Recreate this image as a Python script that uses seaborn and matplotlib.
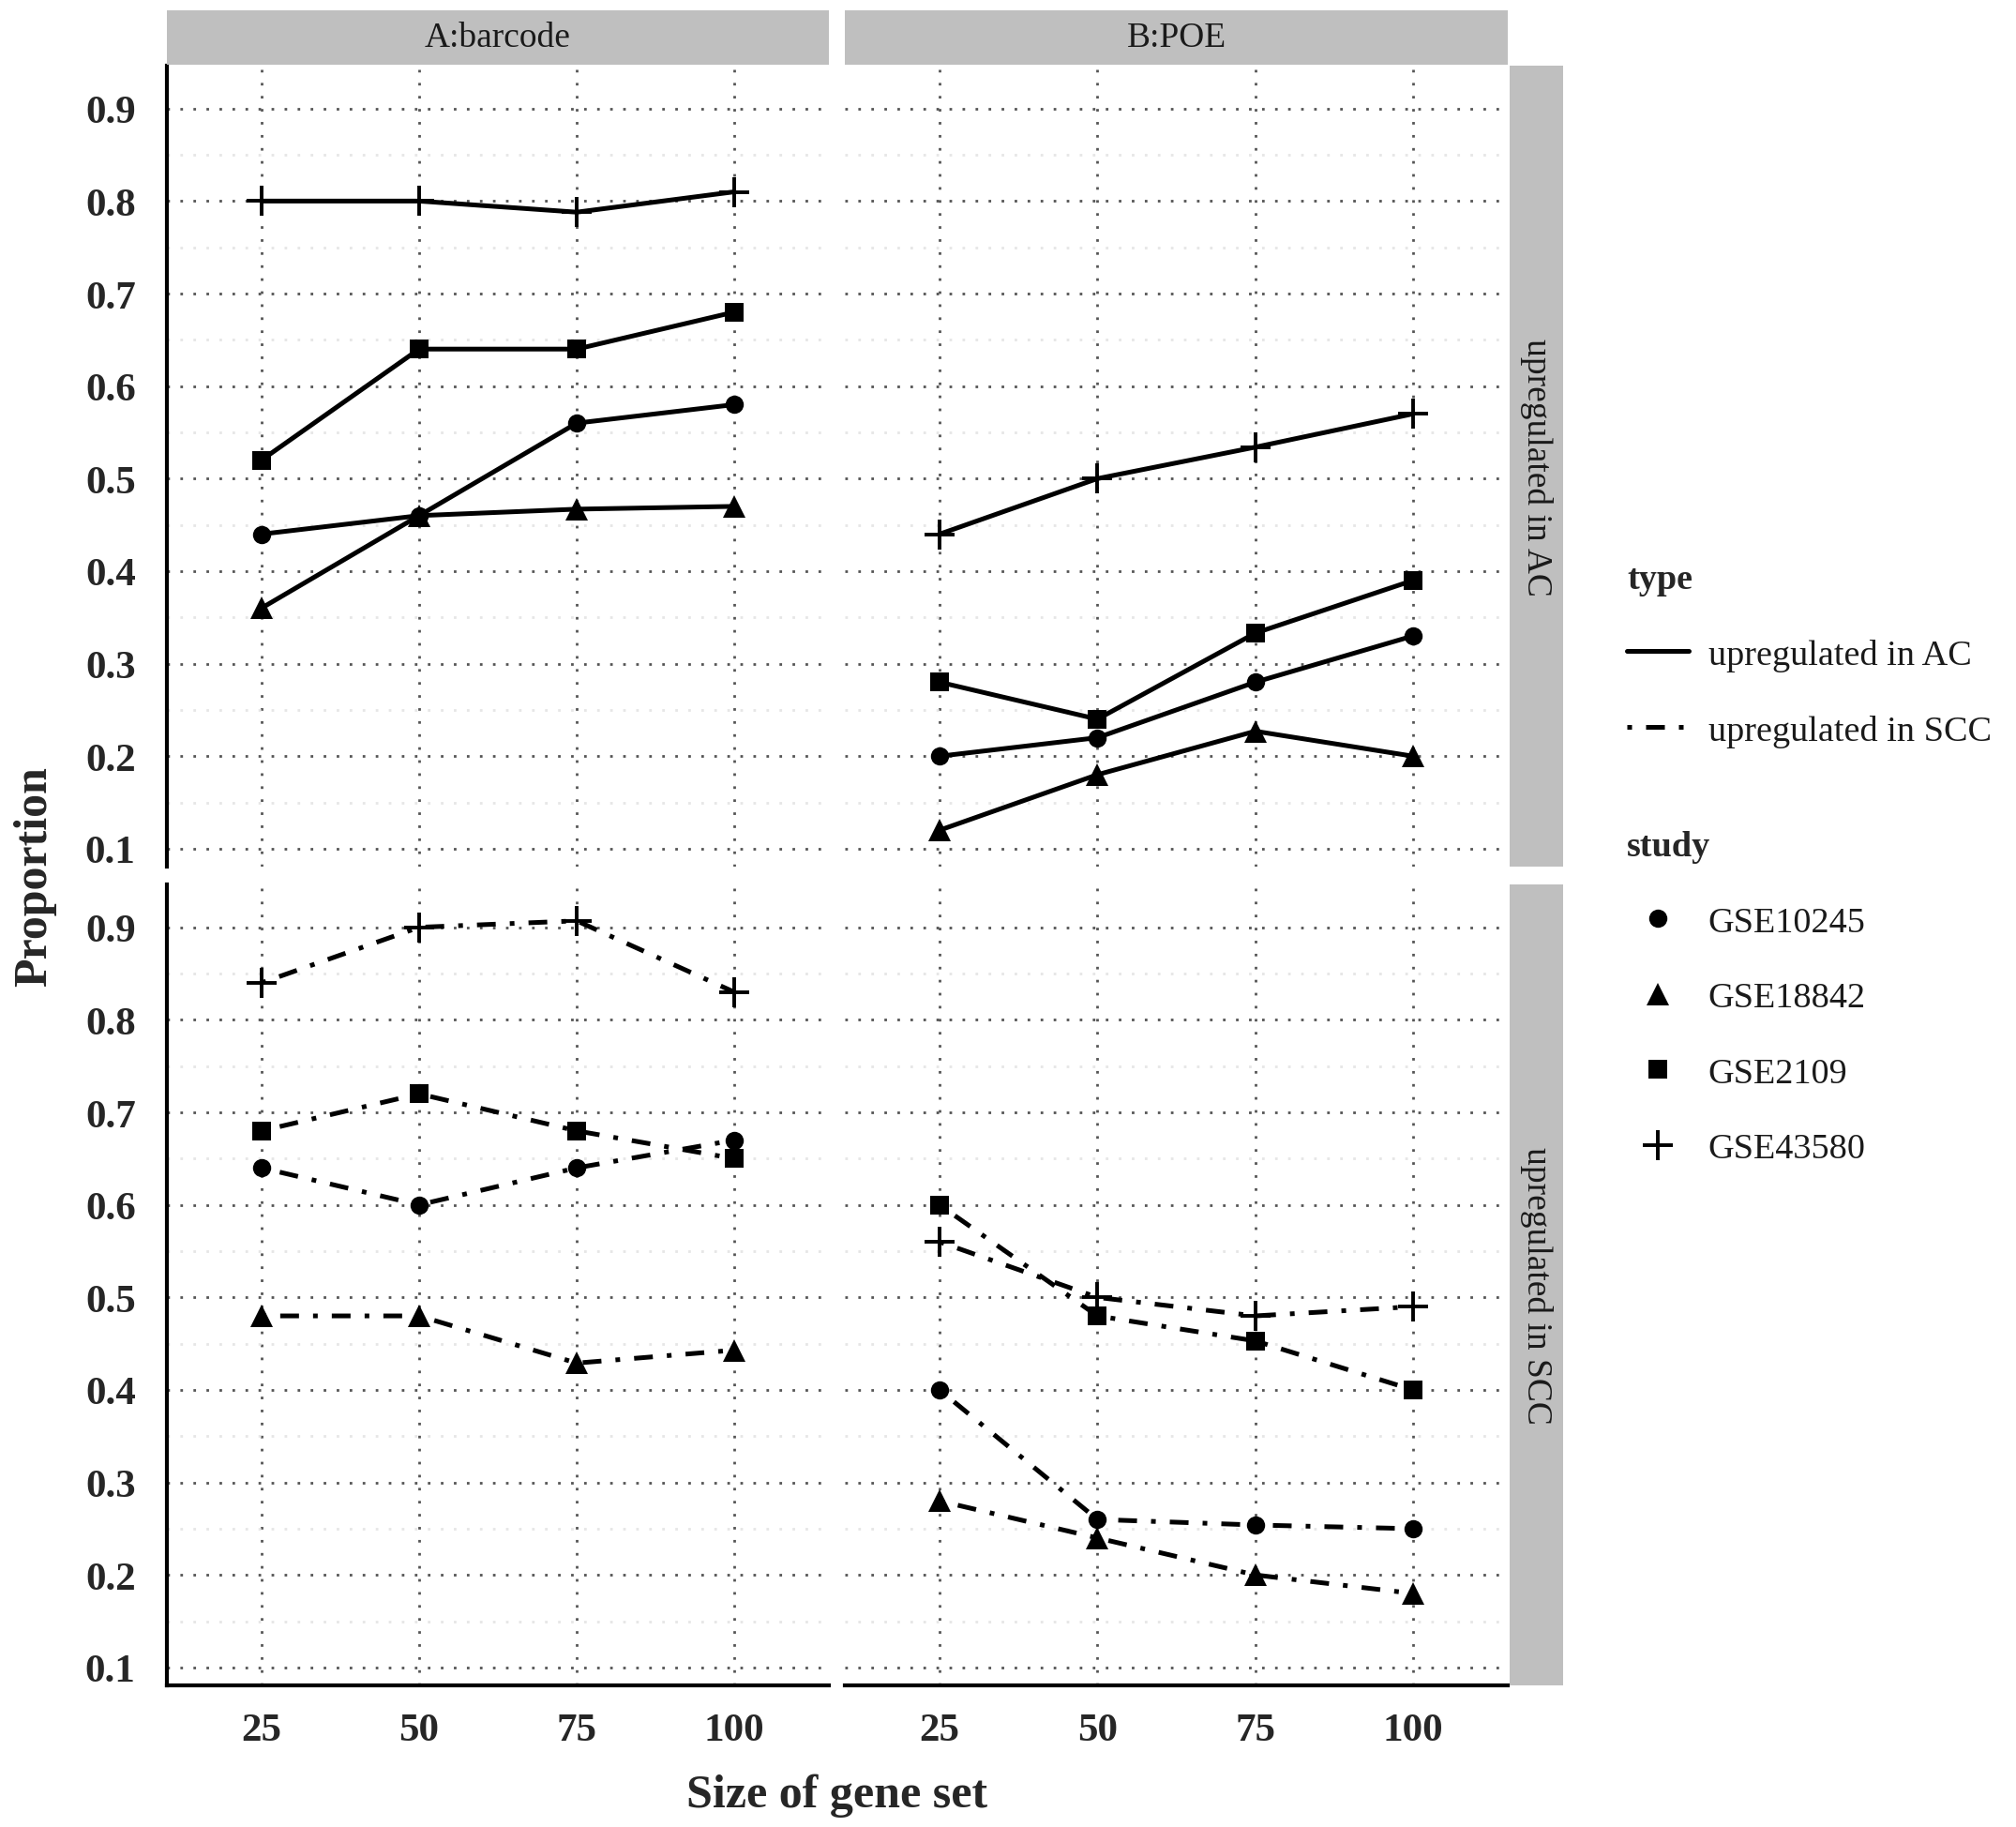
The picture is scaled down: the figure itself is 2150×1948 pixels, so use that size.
import pandas as pd
import numpy as np
import matplotlib
matplotlib.use('Agg')
import matplotlib.pyplot as plt
import seaborn as sns
from matplotlib.lines import Line2D

# Values
sizes = [25, 50, 75, 100]
studies = ['GSE10245', 'GSE18842', 'GSE2109', 'GSE43580']
methods = ['A:barcode', 'B:POE']
types = ['upregulated in AC', 'upregulated in SCC']

# one list per study, same order as studies
barcode_ac = [
    [0.44, 0.46, 0.56, 0.58],
    [0.36, 0.46, 0.467, 0.47],
    [0.52, 0.64, 0.64, 0.68],
    [0.80, 0.80, 0.788, 0.81],
]
poe_ac = [
    [0.20, 0.22, 0.28, 0.33],
    [0.12, 0.18, 0.227, 0.20],
    [0.28, 0.24, 0.333, 0.39],
    [0.44, 0.50, 0.534, 0.57],
]
barcode_scc = [
    [0.64, 0.60, 0.64, 0.67],
    [0.48, 0.48, 0.429, 0.443],
    [0.68, 0.72, 0.68, 0.65],
    [0.84, 0.90, 0.907, 0.83],
]
poe_scc = [
    [0.40, 0.26, 0.254, 0.25],
    [0.28, 0.24, 0.20, 0.18],
    [0.60, 0.48, 0.453, 0.40],
    [0.56, 0.50, 0.48, 0.49],
]

panels = {
    ('upregulated in AC', 'A:barcode'): barcode_ac,
    ('upregulated in AC', 'B:POE'): poe_ac,
    ('upregulated in SCC', 'A:barcode'): barcode_scc,
    ('upregulated in SCC', 'B:POE'): poe_scc,
}

rows = []
for (t, m), vals in panels.items():
    for s, v in zip(studies, vals):
        for x, y in zip(sizes, v):
            rows.append({'type': t, 'method': m, 'study': s, 'size': x, 'Proportion': y})
df = pd.DataFrame(rows)

sns.set_style('white')
plt.rcParams['font.family'] = ['Liberation Serif', 'DejaVu Serif']

markers = {'GSE10245': 'o', 'GSE18842': '^', 'GSE2109': 's', 'GSE43580': '+'}
msizes = {'GSE10245': 14, 'GSE18842': 17, 'GSE2109': 14, 'GSE43580': 23}
linestyles = {'upregulated in AC': '-', 'upregulated in SCC': (0, (1, 3, 4, 3))}
lw = 3.6

W, H = 2150, 1949
fig = plt.figure(figsize=(W / 100, H / 100), dpi=100)

col_x = [(178, 884), (901, 1608)]
row_y = [(71, 925), (944, 1798)]

lo, hi = df['Proportion'].min(), df['Proportion'].max()
pad = 0.05 * (hi - lo)

for i, t in enumerate(types):
    for j, m in enumerate(methods):
        x0, x1 = col_x[j]
        y0, y1 = row_y[i]
        ax = fig.add_axes([x0 / W, 1 - y1 / H, (x1 - x0) / W, (y1 - y0) / H])
        sub = df[(df['type'] == t) & (df['method'] == m)]
        for s in studies:
            d = sub[sub['study'] == s]
            sns.lineplot(data=d, x='size', y='Proportion', ax=ax, color='black',
                         linewidth=lw, linestyle=linestyles[t], marker=markers[s],
                         markersize=msizes[s], markeredgewidth=2.8 if s == 'GSE43580' else 0,
                         markeredgecolor='black', errorbar=None, legend=False)
        ax.set_xlim(10, 115)
        ax.set_ylim(lo - pad, hi + pad)
        ax.set_xticks(sizes)
        ax.set_yticks(np.arange(0.1, 0.95, 0.1))
        ax.set_yticks(np.arange(0.15, 0.9, 0.1), minor=True)
        ax.grid(which='major', color='#555555', linestyle=(0, (1, 4)), linewidth=2)
        ax.grid(which='minor', axis='y', color='#e6e6e6', linestyle=(0, (1, 4)), linewidth=2)
        ax.set_axisbelow(True)
        ax.set_xlabel('')
        ax.set_ylabel('')
        ax.tick_params(length=0, labelsize=31)
        ax.tick_params(axis='y', pad=24)
        ax.tick_params(axis='x', pad=21)
        for lab in ax.get_xticklabels() + ax.get_yticklabels():
            lab.set_fontweight('bold')
        for sp in ax.spines.values():
            sp.set_visible(False)
        if j == 0:
            ax.spines['left'].set_visible(True)
            ax.spines['left'].set_linewidth(3)
            ax.spines['left'].set_color('black')
        else:
            ax.set_yticklabels([])
        if i == 1:
            ax.spines['bottom'].set_visible(True)
            ax.spines['bottom'].set_linewidth(3)
            ax.spines['bottom'].set_color('black')
        else:
            ax.set_xticklabels([])

# strips on top
for j, m in enumerate(methods):
    x0, x1 = col_x[j]
    sax = fig.add_axes([x0 / W, 1 - 70 / H, (x1 - x0) / W, 58 / H])
    sax.set_facecolor('#bfbfbf')
    sax.set_xticks([])
    sax.set_yticks([])
    for sp in sax.spines.values():
        sp.set_visible(False)
    sax.text(0.5, 0.5, m, ha='center', va='center', fontsize=27, color='#1a1a1a',
             transform=sax.transAxes)

# strips on the right
for i, t in enumerate(types):
    y0, y1 = row_y[i]
    sax = fig.add_axes([1610 / W, 1 - y1 / H, 57 / W, (y1 - y0) / H])
    sax.set_facecolor('#bfbfbf')
    sax.set_xticks([])
    sax.set_yticks([])
    for sp in sax.spines.values():
        sp.set_visible(False)
    sax.text(0.5, 0.5, t, ha='center', va='center', rotation=-90, fontsize=27,
             color='#1a1a1a', transform=sax.transAxes)

fig.text(0.0172, 1 - 934.5 / H, 'Proportion', rotation=90, ha='center', va='center',
         fontsize=36, fontweight='bold')
fig.text(893 / W, 1 - 1915 / H, 'Size of gene set', ha='center', va='center',
         fontsize=36, fontweight='bold')

# legends
type_handles = [Line2D([], [], color='black', linewidth=lw, linestyle=linestyles[t]) for t in types]
leg1 = fig.legend(type_handles, types, title='type', loc='upper left',
                  bbox_to_anchor=(1735 / W, 1 - 601 / H), frameon=False, fontsize=27.5,
                  title_fontproperties={'weight': 'bold', 'size': 27.5}, alignment='left',
                  handlelength=1.72, handletextpad=0.55, labelspacing=1.2,
                  borderpad=0, borderaxespad=0)
for txt in leg1.get_texts():
    txt.set_color('#1a1a1a')

study_handles = [Line2D([], [], color='black', linestyle='none', marker=markers[s],
                        markersize=msizes[s],
                        markeredgewidth=2.8 if s == 'GSE43580' else 0) for s in studies]
leg2 = fig.legend(study_handles, studies, title='study', loc='upper left',
                  bbox_to_anchor=(1735 / W, 1 - 886 / H), frameon=False, fontsize=27.5,
                  title_fontproperties={'weight': 'bold', 'size': 27.5}, alignment='left',
                  handlelength=1.72, handletextpad=0.55, labelspacing=1.2,
                  borderpad=0, borderaxespad=0)
for txt in leg2.get_texts():
    txt.set_color('#1a1a1a')

fig.savefig('out.png', dpi=100)
